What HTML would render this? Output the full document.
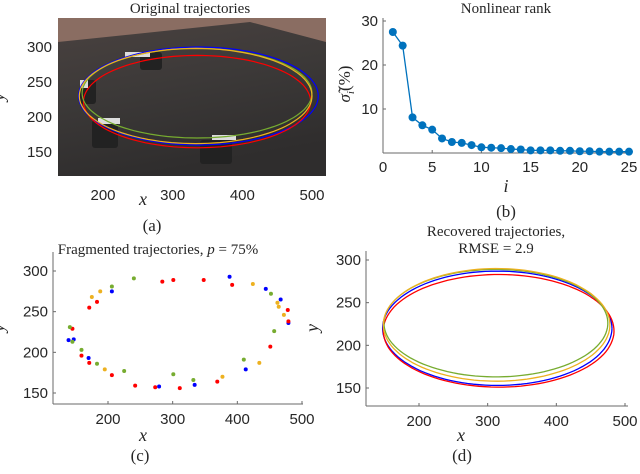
<!DOCTYPE html>
<html><head><meta charset="utf-8"><style>
body{margin:0;background:#fff;width:640px;height:469px;overflow:hidden}
svg text{font-family:"Liberation Sans",sans-serif;fill:#262626}
</style></head><body>
<svg id="fig" width="640" height="469" viewBox="0 0 640 469" xmlns="http://www.w3.org/2000/svg">
<defs>
<linearGradient id="floor" x1="0" y1="0" x2="0.3" y2="1">
<stop offset="0" stop-color="#4a4240"/><stop offset="0.5" stop-color="#3c3938"/><stop offset="1" stop-color="#2f2d2d"/></linearGradient>
</defs>
<g>
<rect x="58" y="18" width="268" height="158" fill="url(#floor)"/>
<polygon points="58,18 326,18 326,42 250,22 58,42" fill="#8a6d62"/>
<g id="robots" fill="#222">
<rect x="140" y="52" width="22" height="18" rx="3"/><rect x="80" y="80" width="16" height="24" rx="3"/><rect x="92" y="120" width="26" height="28" rx="3"/><rect x="200" y="140" width="32" height="24" rx="3"/>
<rect x="125" y="52" width="25" height="5" fill="#ddd"/><rect x="80" y="80" width="8" height="8" fill="#ddd"/><rect x="98" y="118" width="22" height="6" fill="#ddd"/><rect x="212" y="135" width="24" height="5" fill="#ddd"/>
</g>
<g id="orig"></g>
<text x="190" y="13" font-size="15" text-anchor="middle" style="font-family:'Liberation Serif',serif">Original trajectories</text>
<g id="axA"></g>
</g>
<g><g id="axB"></g><g id="rank"></g>
<text x="506" y="13" font-size="15" text-anchor="middle" style="font-family:'Liberation Serif',serif">Nonlinear rank</text></g>
<g><g id="axC"></g><g id="frag"></g>
<text x="158" y="254" font-size="15" text-anchor="middle" style="font-family:'Liberation Serif',serif">Fragmented trajectories, <tspan font-style="italic">p</tspan> = 75%</text></g>
<g><g id="axD"></g><g id="rec"></g>
<text x="496" y="236" font-size="15" text-anchor="middle" style="font-family:'Liberation Serif',serif">Recovered trajectories,</text>
<text x="496" y="253" font-size="15" text-anchor="middle" style="font-family:'Liberation Serif',serif">RMSE = 2.9</text></g>
</svg>
<script>
const NS="http://www.w3.org/2000/svg";
const rankIdx=[1,2,3,4,5,6,7,8,9,10,11,12,13,14,15,16,17,18,19,20,21,22,23,24,25];
const rankVals=[27.5,24.4,8.1,6.3,5.3,3.3,2.5,2.3,1.8,1.3,1.2,1.1,0.9,0.8,0.6,0.6,0.6,0.5,0.5,0.4,0.4,0.3,0.3,0.3,0.3];
const xTicks=[200,300,400,500];
const yTicks=[150,200,250,300];
const bXTicks=[0,5,10,15,20,25];
const bYTicks=[10,20,30];
const trajColors=["#0000ff","#ff0000","#77ac30","#edb120"];
const origCx=[337,335,335,333];
const origCy=[230,222,234,230];
const origRx=[172,163,165,167];
const origRy=[70,66,64,68];
const recCx=[314,316,312,313];
const recCy=[220,217,226,224];
const recRx=[167,168,163,165];
const recRy=[67,66,63,66];
const fragX=[240,284,301,348,388,392,424,444,452,467,462,464,478,472,479,479,457,451,434,410,413,377,369,334,332,311,301,279,273,242,225,206,195,183,171,170,159,159,147,139,145,145,141,171,175,206,206,183,188];
const fragY=[291,287,289,289,293,283,284,278,272,265,261,256,252,246,236,238,226,207,187,191,179,170,164,160,166,156,173,158,157,159,177,172,179,186,187,193,196,203,216,215,213,229,231,255,268,275,281,262,275];
const fragC=[2,1,1,1,0,1,3,0,2,0,3,3,1,3,0,1,2,1,3,2,0,3,1,0,2,1,2,0,1,1,2,1,3,2,1,0,1,2,0,0,2,1,2,1,3,0,2,1,3];

function el(parent,tag,attrs,name,inter){const e=document.createElementNS(NS,tag);for(const k in attrs)e.setAttribute(k,attrs[k]);


parent.appendChild(e);return e;}
function lin(d0,d1,p0,p1){return v=>p0+(v-d0)*(p1-p0)/(d1-d0);}
function axes(g,o){
 el(g,'line',{x1:o.l,y1:o.b,x2:o.r,y2:o.b,stroke:'#6a6a6a','stroke-width':1},'x-axis-line');
 el(g,'line',{x1:o.l,y1:o.b,x2:o.l,y2:o.t,stroke:'#6a6a6a','stroke-width':1},'y-axis-line');
 o.xt.forEach(v=>{const x=o.sx(v);el(g,'line',{x1:x,y1:o.b,x2:x,y2:o.b-3,stroke:'#6a6a6a'},'x-tick');
  const t=el(g,'text',{x:x,y:o.b+o.xo,'font-size':15,'text-anchor':'middle'},'x-tick-label');t.textContent=v;});
 o.yt.forEach(v=>{const y=o.sy(v);el(g,'line',{x1:o.l,y1:y,x2:o.l+3,y2:y,stroke:'#6a6a6a'},'y-tick');
  const t=el(g,'text',{x:o.l-5,y:y+5,'font-size':15,'text-anchor':'end'},'y-tick-label');t.textContent=v;});
}
function label(g,x,y,txt,name,rot){const t=el(g,'text',{x:x,y:y,'font-size':18,'font-style':'italic','text-anchor':'middle',style:"font-family:'Liberation Serif',serif"},name);t.textContent=txt;if(rot)t.setAttribute('transform','rotate(-90 '+x+' '+y+')');return t;}
function ellPath(sx,sy,cx,cy,rx,ry,wob){let d='';for(let k=0;k<=120;k++){const a=k/120*2*Math.PI+wob;const x=sx(cx+rx*Math.cos(a)),y=sy(cy+ry*Math.sin(a));d+=(k?'L':'M')+x.toFixed(1)+','+y.toFixed(1);}return d;}

const ax=lin(200,500,103,312), ay=lin(150,300,152,47);
const gA=document.getElementById('axA');
xTicks.forEach(v=>{const t=el(gA,'text',{x:ax(v),y:200,'font-size':15,'text-anchor':'middle'},'x-tick-label');t.textContent=v;});
yTicks.forEach(v=>{const t=el(gA,'text',{x:52,y:ay(v)+5,'font-size':15,'text-anchor':'end'},'y-tick-label');t.textContent=v;});
label(gA,143,205,'x','x-axis-title');label(gA,4,97,'y','y-axis-title',true);
const ta=el(gA,'text',{x:152,y:231,'font-size':17,'text-anchor':'middle',style:"font-family:'Liberation Serif',serif"},'caption-a');ta.textContent='(a)';
const go=document.getElementById('orig');
origCx.forEach((c,i)=>el(go,'path',{d:ellPath(ax,ay,c,origCy[i],origRx[i],origRy[i],0),fill:'none',stroke:trajColors[i],'stroke-width':1.2},'original-trajectory'));

const bx=lin(0,25,383,629), by=lin(0,10,153,109);
const gB=document.getElementById('axB');
axes(gB,{l:383,r:629,b:153,t:18,sx:bx,sy:by,xt:bXTicks,yt:bYTicks,xo:19});
label(gB,506,192,'i','x-axis-title');
const yl=el(gB,'text',{x:350,y:84,'font-size':17,'text-anchor':'middle','transform':'rotate(-90 350 84)',style:"font-family:'Liberation Serif',serif"},'y-axis-title');
yl.innerHTML='<tspan font-style="italic">σ̃</tspan><tspan font-size="11" font-style="italic" dy="4">i</tspan><tspan dy="-4">(%)</tspan>';
const tb=el(gB,'text',{x:506,y:217,'font-size':17,'text-anchor':'middle',style:"font-family:'Liberation Serif',serif"},'caption-b');tb.textContent='(b)';
const gr=document.getElementById('rank');
el(gr,'polyline',{points:rankIdx.map((v,i)=>bx(v)+','+by(rankVals[i])).join(' '),fill:'none',stroke:'#0072bd','stroke-width':1.3},'rank-line');
rankIdx.forEach((v,i)=>el(gr,'circle',{cx:bx(v),cy:by(rankVals[i]),r:4,fill:'#0072bd'},'rank-point'));

const cx=lin(200,500,108,302), cy=lin(150,300,393,271);
const gC=document.getElementById('axC');
axes(gC,{l:53,r:303,b:404,t:252,sx:cx,sy:cy,xt:xTicks,yt:yTicks,xo:20});
label(gC,143,441,'x','x-axis-title');label(gC,4,328,'y','y-axis-title',true);
const tc=el(gC,'text',{x:140,y:461,'font-size':17,'text-anchor':'middle',style:"font-family:'Liberation Serif',serif"},'caption-c');tc.textContent='(c)';
const gf=document.getElementById('frag');
fragX.forEach((v,i)=>el(gf,'circle',{cx:cx(v),cy:cy(fragY[i]),r:2,fill:trajColors[fragC[i]]},'fragment-point'));

const dx=lin(200,500,419,625), dy=lin(150,300,388,260);
const gD=document.getElementById('axD');
axes(gD,{l:366,r:628,b:406,t:251,sx:dx,sy:dy,xt:xTicks,yt:yTicks,xo:20});
label(gD,461,441,'x','x-axis-title');label(gD,318,328,'y','y-axis-title',true);
const td=el(gD,'text',{x:462,y:461,'font-size':17,'text-anchor':'middle',style:"font-family:'Liberation Serif',serif"},'caption-d');td.textContent='(d)';
const gre=document.getElementById('rec');
recCx.forEach((c,i)=>el(gre,'path',{d:ellPath(dx,dy,c,recCy[i],recRx[i],recRy[i],0.3*i),fill:'none',stroke:trajColors[i],'stroke-width':1.3},'recovered-trajectory'));
</script>
</body></html>
